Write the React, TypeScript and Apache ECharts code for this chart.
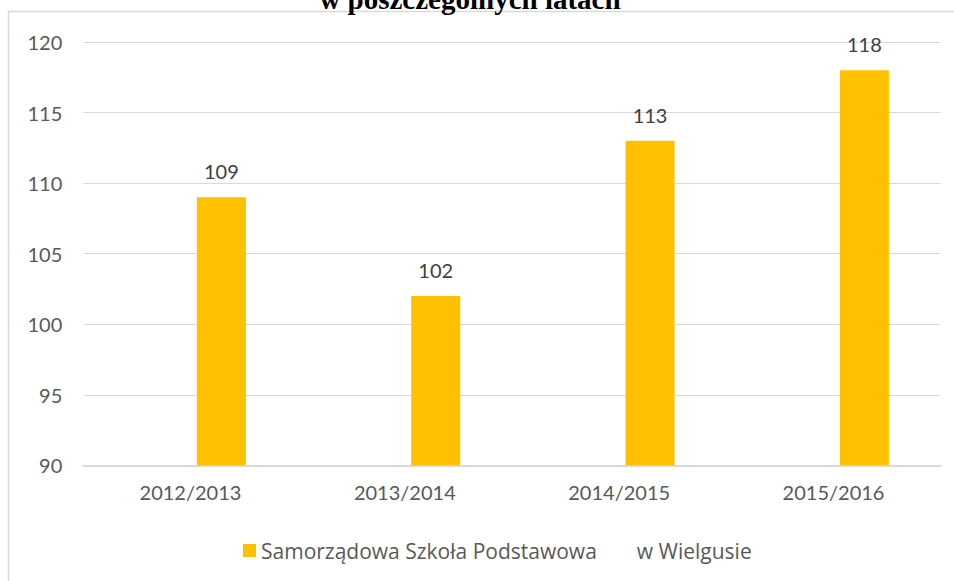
import React, { useEffect, useRef } from "react";
import * as echarts from "echarts";

const categories = ["2012/2013", "2013/2014", "2014/2015", "2015/2016"];
const schoolValues = [109, 102, 113, 118];
const emptyValues: (number | null)[] = [null, null, null, null];
const seriesNames = ["Samorządowa Szkoła Podstawowa", "w Wielgusie"];
const titleText = "w poszczególnych latach";

export default function App() {
  const ref = useRef<HTMLDivElement>(null);
  useEffect(() => {
    if (!ref.current) return;
    const chart = echarts.init(ref.current, undefined, { renderer: "svg" });
    const font = "Lato";
    chart.setOption({
      animation: false,
      backgroundColor: "#ffffff",
      textStyle: { fontFamily: font },
      graphic: [
        {
          type: "rect",
          shape: { x: 8.5, y: 11.5, width: 1000, height: 700 },
          style: { fill: "none", stroke: "#d9d9d9", lineWidth: 1.5 },
          silent: true,
        },
        {
          type: "text",
          x: 470,
          y: -1,
          style: {
            text: titleText,
            font: "bold 29px 'Liberation Serif'",
            fill: "#000000",
            textAlign: "center",
            textVerticalAlign: "middle",
          },
          silent: true,
        },
      ],
      legend: {
        left: 238,
        top: 535,
        itemWidth: 13,
        itemHeight: 13,
        itemGap: 22,
        selectedMode: false,
        textStyle: { fontFamily: "Open Sans", fontSize: 21, color: "#595959" },
        data: [
          { name: seriesNames[0], icon: "rect" },
          { name: seriesNames[1], icon: "none" },
        ],
      },
      grid: { left: 83.3, right: 13.3, top: 42, bottom: 115.7 },
      xAxis: {
        type: "category",
        data: categories,
        axisLine: { lineStyle: { color: "#d9d9d9", width: 2 } },
        axisTick: { show: false },
        axisLabel: { fontFamily: font, fontSize: 20, color: "#595959", margin: 17 },
      },
      yAxis: {
        type: "value",
        min: 90,
        max: 120,
        interval: 5,
        axisLine: { show: false },
        axisTick: { show: false },
        splitLine: { lineStyle: { color: "#d9d9d9", width: 1 } },
        axisLabel: { fontFamily: font, fontSize: 20, color: "#595959", margin: 21 },
      },
      series: [
        {
          name: seriesNames[1],
          type: "bar",
          data: emptyValues,
          barWidth: 49,
          barGap: "26%",
          itemStyle: { color: "#ffffff" },
        },
        {
          name: seriesNames[0],
          type: "bar",
          data: schoolValues,
          barWidth: 49,
          barGap: "26%",
          itemStyle: { color: "#FFC000" },
          label: {
            show: true,
            position: "top",
            distance: 16,
            fontFamily: font,
            fontSize: 20,
            color: "#404040",
          },
        },
      ],
    });
    return () => chart.dispose();
  }, []);
  return (
    <div
      ref={ref}
      style={{ position: "fixed", left: 0, top: 0, width: 954, height: 581 }}
    />
  );
}
